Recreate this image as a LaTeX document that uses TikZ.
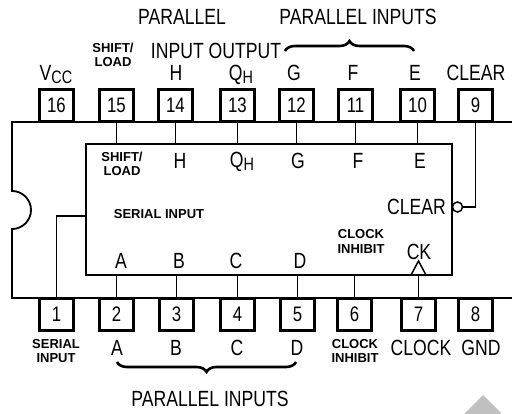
\documentclass[tikz,border=0pt]{standalone}
\usepackage{fontspec}
\usepackage{tikz}
\usetikzlibrary{positioning, calc, decorations.pathreplacing}
\setmainfont[FakeStretch=0.8]{Liberation Sans}
\newfontfamily\smallbold[BoldFont={Liberation Sans Bold}]{Liberation Sans}
\definecolor{markgray}{RGB}{192,192,192}

\begin{document}
\begin{tikzpicture}[
    x=1pt, y=-1pt,
    pinbox/.style={draw, line width=2.1pt, minimum width=34pt, minimum height=32pt, inner sep=0pt, fill=white, font=\fontsize{21}{21}\selectfont},
    logic/.style={draw, line width=1.5pt, minimum width=366pt, minimum height=131pt, inner sep=0pt},
    body/.style={line width=1.8pt},
    wire/.style={line width=1.5pt},
    big/.style={inner sep=0pt, font=\fontsize{22}{22}\selectfont},
    tiny/.style={inner sep=0pt, align=center, font=\fontsize{13}{14.5}\selectfont\smallbold\bfseries},
    bracket/.style={decorate, decoration={brace, amplitude=10pt}, line width=2.6pt}
]
    \useasboundingbox (0,0) rectangle (512,414);
    \newcommand{\subs}[1]{\raisebox{-3pt}{\fontsize{18}{18}\selectfont #1}}

    % Package outline
    \coordinate (topright) at (512,122);
    \coordinate (botright) at (512,298);
    \draw[body] (topright) -- (12,122) -- (12,191) arc[start angle=90, end angle=-90, radius=19pt] -- (12,298) -- (botright);

    % Inner box
    \node[logic] (chip) at (269,209.5) {};

    % Upper pins
    \node[pinbox] (p16) at (56.5,105.5) {16};
    \node[pinbox] (p15) at (116.5,105.5) {15};
    \node[pinbox] (p14) at (175.5,105.5) {14};
    \node[pinbox] (p13) at (237.5,105.5) {13};
    \node[pinbox] (p12) at (296.5,105.5) {12};
    \node[pinbox] (p11) at (355.5,105.5) {11};
    \node[pinbox] (p10) at (417.5,105.5) {10};
    \node[pinbox] (p9) at (475.5,105.5) {9};

    % Lower pins
    \node[pinbox] (p1) at (56.5,314.5) {1};
    \node[pinbox] (p2) at (116.5,314.5) {2};
    \node[pinbox] (p3) at (176.5,314.5) {3};
    \node[pinbox] (p4) at (237.5,314.5) {4};
    \node[pinbox] (p5) at (297.5,314.5) {5};
    \node[pinbox] (p6) at (354.5,314.5) {6};
    \node[pinbox] (p7) at (418.5,314.5) {7};
    \node[pinbox] (p8) at (475.5,314.5) {8};

    % Wires
    \draw[wire] (p15.south) -- (p15.south |- chip.north);
    \draw[wire] (p14.south) -- (p14.south |- chip.north);
    \draw[wire] (p13.south) -- (p13.south |- chip.north);
    \draw[wire] (p12.south) -- (p12.south |- chip.north);
    \draw[wire] (p11.south) -- (p11.south |- chip.north);
    \draw[wire] (p10.south) -- (p10.south |- chip.north);
    \draw[wire] (p2.north) -- (p2.north |- chip.south);
    \draw[wire] (p3.north) -- (p3.north |- chip.south);
    \draw[wire] (p4.north) -- (p4.north |- chip.south);
    \draw[wire] (p5.north) -- (p5.north |- chip.south);
    \draw[wire] (p6.north) -- (p6.north |- chip.south);
    \draw[wire] (p7.north) -- (p7.north |- chip.south);
    \draw[wire] (p1.north) -- (p1.north |- 0,216) -- (chip.west |- 0,216);

    % Clear input and clock mark
    \node[draw, circle, line width=1.5pt, minimum size=10pt, inner sep=0pt, fill=white] (bubble) at (457.5,207) {};
    \draw[wire] (p9.south) -- (p9.south |- bubble.east) -- (bubble.east);
    \coordinate (cktip) at (418.5,261);
    \draw[wire] (411,275) -- (cktip) -- (426,275);

    % Outside labels
    \node[big] (toppar) at (182,17) {PARALLEL};
    \node[big] (topinputs) at (358,17) {PARALLEL INPUTS};
    \node[big] (inout) at (216,50.5) {INPUT OUTPUT};
    \node[big] (vcc) at (56,75) {V\subs{CC}};
    \node[big] (outh) at (176,73) {H};
    \node[big] (outq) at (241,74.5) {Q\subs{H}};
    \node[big] (outg) at (294,73) {G};
    \node[big] (outf) at (353,73) {F};
    \node[big] (oute) at (415,73) {E};
    \node[big] (outclear) at (476,73) {CLEAR};
    \node[tiny] (outshift) at (113,55) {SHIFT/\\LOAD};
    \node[tiny] (outserial) at (56,351) {SERIAL\\INPUT};
    \node[big] (outa) at (117,348) {A};
    \node[big] (outb) at (176,348) {B};
    \node[big] (outc) at (237,348) {C};
    \node[big] (outd) at (297,348) {D};
    \node[tiny] (outinhibit) at (355,351) {CLOCK\\INHIBIT};
    \node[big] (outclock) at (421,348) {CLOCK};
    \node[big] (outgnd) at (481,348) {GND};
    \node[big] (botinputs) at (210,399) {PARALLEL INPUTS};

    % Inside labels
    \node[tiny] (inshift) at (122,164) {SHIFT/\\LOAD};
    \node[big] (inh) at (180,161) {H};
    \node[big] (inq) at (242,162) {Q\subs{H}};
    \node[big] (ing) at (298,161) {G};
    \node[big] (inf) at (358,161) {F};
    \node[big] (ine) at (420,161) {E};
    \node[big, anchor=east] (inclear) at (446,207) {CLEAR};
    \node[tiny] (inserial) at (159,214) {SERIAL INPUT};
    \node[big] (ina) at (121,261) {A};
    \node[big] (inb) at (179,261) {B};
    \node[big] (inc) at (236,261) {C};
    \node[big] (ind) at (300,261) {D};
    \node[tiny] (ininhibit) at (361,241.5) {CLOCK\\INHIBIT};
    \node[big] (inck) at (419,252) {CK};

    % Braces
    \coordinate (tbl) at (285,51);
    \coordinate (tbr) at (414,51);
    \coordinate (bbl) at (117,362);
    \coordinate (bbr) at (296,362);
    \draw[bracket] (tbl) -- (tbr);
    \draw[bracket] (bbr) -- (bbl);

    % Corner mark
    \fill[markgray] (483,395) -- (501,413) -- (500,414) -- (464,414) -- cycle;
\end{tikzpicture}
\end{document}
